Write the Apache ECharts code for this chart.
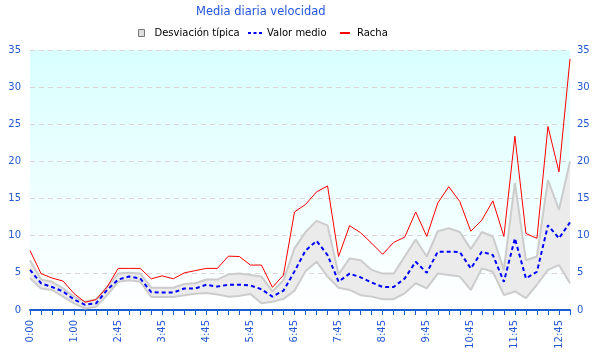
<!DOCTYPE html>
<html>
<head>
<meta charset="utf-8">
<script src="https://cdn.jsdelivr.net/npm/echarts@6/dist/echarts.min.js"></script>
<style>html,body{margin:0;padding:0;background:#fff}#c{width:600px;height:360px}</style>
</head>
<body>
<div id="c"></div>
<script>
var categories = ["0:00","0:15","0:30","0:45","1:00","1:15","2:15","2:30","2:45","3:00",
"3:15","3:30","3:45","4:00","4:15","4:30","4:45","5:00","5:15","5:30",
"5:45","6:00","6:15","6:30","6:45","7:00","7:15","7:30","7:45","8:00",
"8:15","8:30","8:45","9:00","9:15","9:30","9:45","10:00","10:15","10:30",
"10:45","11:00","11:15","11:30","11:45","12:00","12:15","12:30","12:45","13:00"];

var racha = [8.0,4.9,4.3,3.9,2.2,1.05,1.4,3.1,5.6,5.6,
5.6,4.2,4.6,4.2,5.0,5.3,5.6,5.6,7.25,7.2,
6.05,6.05,3.05,4.7,13.2,14.2,15.9,16.7,7.2,11.35,
10.4,9.0,7.5,9.1,9.8,13.2,9.9,14.4,16.6,14.6,
10.6,12.1,14.7,9.9,23.4,10.3,9.65,24.7,18.6,33.8];

var valorMedio = [5.4,3.6,3.1,2.5,1.4,0.7,0.9,2.7,4.1,4.5,
4.25,2.4,2.35,2.35,2.9,2.9,3.4,3.15,3.4,3.4,
3.3,2.8,1.8,2.6,5.2,8.0,9.3,7.4,3.8,4.9,
4.4,3.7,3.1,3.1,4.25,6.5,5.0,7.85,7.85,7.8,
5.6,7.85,7.4,3.8,9.65,4.25,5.15,11.4,9.65,11.8];

var desvSuperior = [6.7,4.1,3.8,2.9,1.8,1.1,1.45,3.1,4.9,5.0,
4.9,3.0,3.0,3.0,3.5,3.6,4.1,4.1,4.8,4.9,
4.7,4.5,2.5,4.0,8.3,10.5,12.0,11.4,4.8,6.95,
6.7,5.4,4.9,4.9,7.2,9.5,7.2,10.6,11.0,10.5,
8.2,10.5,9.9,5.4,17.1,6.7,7.2,17.5,13.5,20.0];

var desvInferior = [4.3,2.9,2.7,1.8,0.9,0.2,0.45,2.0,3.8,4.0,
3.8,1.75,1.75,1.75,2.0,2.2,2.3,2.1,1.8,1.9,
2.15,0.9,1.1,1.5,2.6,5.2,6.5,4.5,3.0,2.7,
2.0,1.8,1.45,1.45,2.25,3.6,2.9,4.9,4.7,4.5,
2.7,5.6,5.15,2.0,2.5,1.6,3.4,5.4,6.05,3.6];

var yTicks = {min: 0, max: 35, interval: 5};

var bandDiff = desvSuperior.map(function (v, i) { return +(v - desvInferior[i]).toFixed(3); });

var FONT = 'DejaVu Sans';
var AXIS = '#1a5fd0';
var LABEL = '#2458d0';

var chart = echarts.init(document.getElementById('c'), null, {renderer: 'canvas'});
chart.setOption({
  animation: false,
  title: {
    text: 'Media diaria velocidad',
    left: 196, top: 6, padding: 0,
    textStyle: {color: '#2255dd', fontSize: 11.5, fontWeight: 'normal', fontFamily: FONT}
  },
  legend: [
    {
      data: [{name: 'Desviación típica', icon: 'rect',
              itemStyle: {color: '#dddddd', borderColor: '#777777', borderWidth: 1}}],
      left: 138, top: 28, itemWidth: 6, itemHeight: 7, padding: 0,
      textStyle: {color: '#000', fontSize: 10, fontFamily: FONT, padding: [0, 0, 0, 5]}
    },
    {
      data: [{name: 'Valor medio', icon: 'path://M0,0h3v2h-3z M5.5,0h3v2h-3z M11,0h3v2h-3z',
              itemStyle: {color: '#0000ff'}}],
      left: 248, top: 28, itemWidth: 14, itemHeight: 2.5, padding: 0,
      textStyle: {color: '#000', fontSize: 10, fontFamily: FONT}
    },
    {
      data: [{name: 'Racha', icon: 'rect', itemStyle: {color: '#ff0000'}}],
      left: 340, top: 28, itemWidth: 10, itemHeight: 2, padding: 0,
      textStyle: {color: '#000', fontSize: 10, fontFamily: FONT, padding: [0, 0, 0, 2]}
    }
  ],
  grid: {
    left: 30, right: 30, top: 50, bottom: 50, show: true, borderWidth: 0,
    backgroundColor: new echarts.graphic.LinearGradient(0, 0, 0, 1, [
      {offset: 0, color: '#d9ffff'}, {offset: 1, color: '#ffffff'}
    ])
  },
  xAxis: {
    type: 'category', data: categories, boundaryGap: false,
    axisLine: {lineStyle: {color: AXIS, width: 2}},
    axisTick: {show: true, interval: 0, length: 5, lineStyle: {color: AXIS, width: 1}},
    axisLabel: {interval: 3, rotate: 90, color: LABEL, fontSize: 10, fontFamily: FONT, margin: 10},
    splitLine: {show: false}
  },
  yAxis: [
    {
      type: 'value', min: yTicks.min, max: yTicks.max, interval: yTicks.interval,
      axisLine: {show: false}, axisTick: {show: false},
      axisLabel: {color: LABEL, fontSize: 10, fontFamily: FONT, margin: 9},
      splitLine: {show: true, lineStyle: {color: '#dcd4d4', type: [5, 4], width: 1}}
    },
    {
      type: 'value', position: 'right', min: yTicks.min, max: yTicks.max, interval: yTicks.interval,
      axisLine: {show: false}, axisTick: {show: false},
      axisLabel: {color: LABEL, fontSize: 10, fontFamily: FONT, margin: 7},
      splitLine: {show: false}
    }
  ],
  series: [
    {
      name: 'desvInf', type: 'line', stack: 'band', data: desvInferior,
      symbol: 'none', silent: true,
      lineStyle: {color: '#cccccc', width: 2}
    },
    {
      name: 'Desviación típica', type: 'line', stack: 'band', data: bandDiff,
      symbol: 'none', silent: true,
      lineStyle: {color: '#cccccc', width: 2},
      itemStyle: {color: '#dddddd'},
      areaStyle: {color: '#ebebeb', opacity: 1}
    },
    {
      name: 'Valor medio', type: 'line', data: valorMedio, symbol: 'none',
      lineStyle: {color: '#0000ff', width: 2, type: [4, 3]},
      itemStyle: {color: '#0000ff'}
    },
    {
      name: 'Racha', type: 'line', data: racha, symbol: 'none',
      lineStyle: {color: '#ff0000', width: 1},
      itemStyle: {color: '#ff0000'}
    }
  ]
});
</script>
</body>
</html>
